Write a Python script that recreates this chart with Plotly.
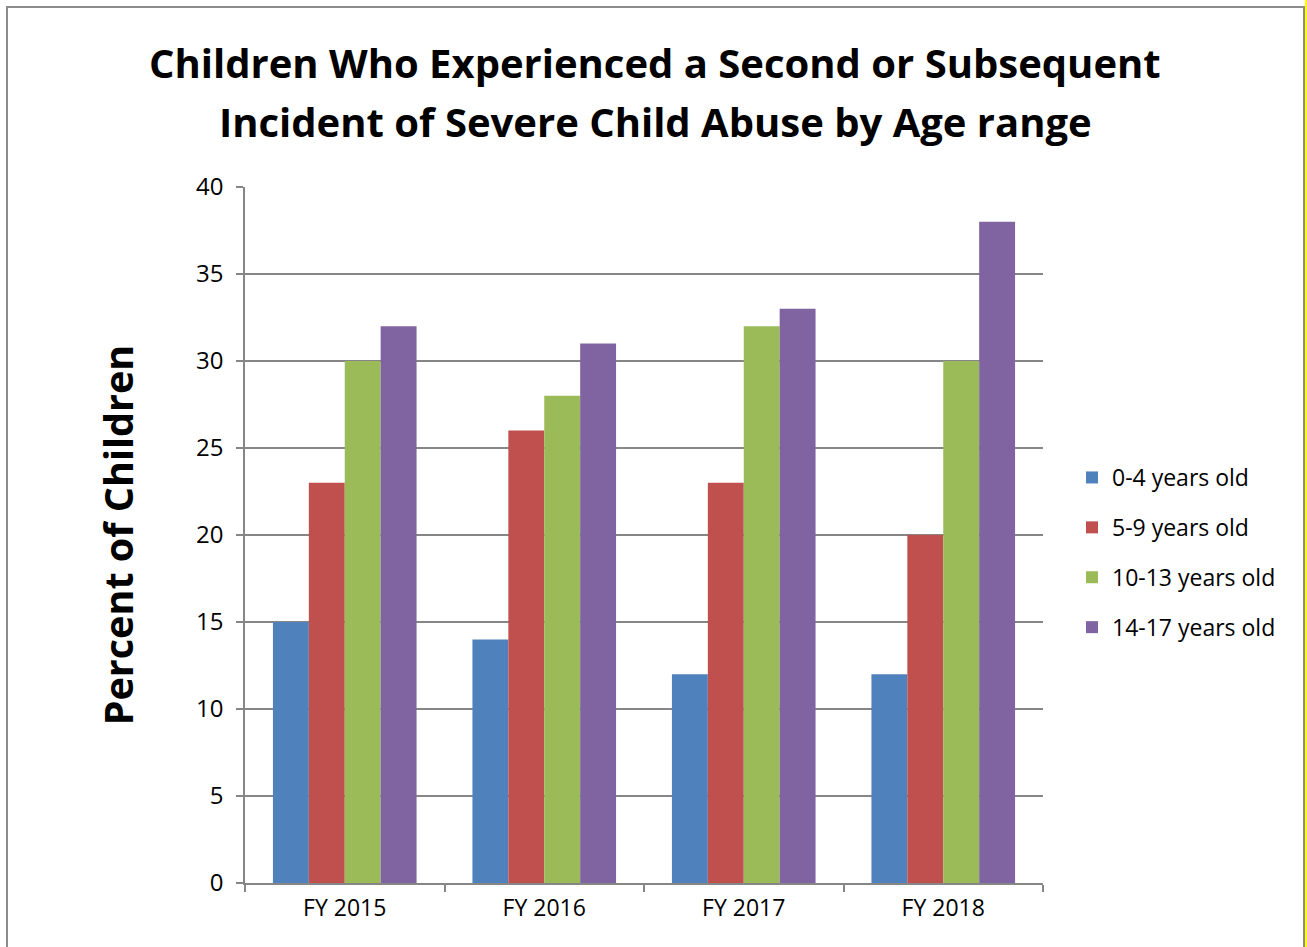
import plotly.graph_objects as go

# Fiscal years on the category axis
years = ["FY 2015", "FY 2016", "FY 2017", "FY 2018"]

# Percent of children with a repeat incident, by age range
age_0_4 = [15, 14, 12, 12]
age_5_9 = [23, 26, 23, 20]
age_10_13 = [30, 28, 32, 30]
age_14_17 = [32, 31, 33, 38]

series = [
    ("0-4 years old", age_0_4, "#4F81BD"),
    ("5-9 years old", age_5_9, "#C0504D"),
    ("10-13 years old", age_10_13, "#9BBB59"),
    ("14-17 years old", age_14_17, "#8064A2"),
]

title_lines = [
    "Children Who Experienced a Second or Subsequent",
    "Incident of Severe Child Abuse by Age range",
]

W, H = 1307, 947
ML, MR, MT, MB = 245, 264, 187, 64
PW, PH = W - ML - MR, H - MT - MB

FONT = "Open Sans"

fig = go.Figure()
for i, (name, vals, color) in enumerate(series):
    fig.add_trace(go.Bar(
        x=years, y=vals, name=name, legendgroup=f"g{i}",
        marker=dict(color=color, line=dict(width=0)),
    ))


def px_x(p):
    return (p - ML) / PW


def px_y(p):
    return (H - MB - p) / PH


shapes = [
    # outer chart frame
    dict(type="rect", xref="paper", yref="paper",
         x0=px_x(7), x1=px_x(1304), y0=px_y(960), y1=px_y(7),
         line=dict(color="#8C8C8C", width=2), fillcolor="rgba(0,0,0,0)"),
    dict(type="line", xref="paper", yref="paper",
         x0=px_x(1306), x1=px_x(1306), y0=px_y(960), y1=px_y(0),
         line=dict(color="#FFFF00", width=2)),
]

# two-line chart title, one annotation per line
annotations = [
    dict(text=line, xref="paper", yref="paper", x=px_x(655), y=px_y(yc),
         xanchor="center", yanchor="middle", showarrow=False,
         font=dict(family=FONT, size=40, color="black", weight="bold"))
    for line, yc in zip(title_lines, [62, 122])
]

fig.update_layout(
    width=W, height=H,
    margin=dict(l=ML, r=MR, t=MT, b=MB),
    paper_bgcolor="white", plot_bgcolor="white",
    barmode="group", bargap=0.28, bargroupgap=0,
    font=dict(family=FONT, color="black"),
    xaxis=dict(
        type="category", showgrid=False, showline=True, linecolor="#868686", linewidth=1.5,
        ticks="outside", tickson="boundaries", ticklen=7, tickcolor="#868686", tickwidth=1.5,
        tickfont=dict(size=23), ticklabelstandoff=4,
    ),
    yaxis=dict(
        range=[0, 40], dtick=5, showgrid=True, gridcolor="#868686", gridwidth=1.5,
        showline=True, linecolor="#868686", linewidth=1.5, zeroline=False,
        ticks="outside", ticklen=7, tickcolor="#868686", tickwidth=1.5,
        tickfont=dict(size=24), ticklabelstandoff=8,
        title=dict(text="Percent of Children", standoff=50,
                   font=dict(family=FONT, size=39.5, weight="bold")),
    ),
    legend=dict(
        x=px_x(1072), xanchor="left", y=px_y(456), yanchor="top",
        font=dict(size=23), tracegroupgap=17, traceorder="grouped",
        itemwidth=30, bgcolor="rgba(0,0,0,0)",
    ),
    shapes=shapes,
    annotations=annotations,
)

fig.write_html("out.html")
